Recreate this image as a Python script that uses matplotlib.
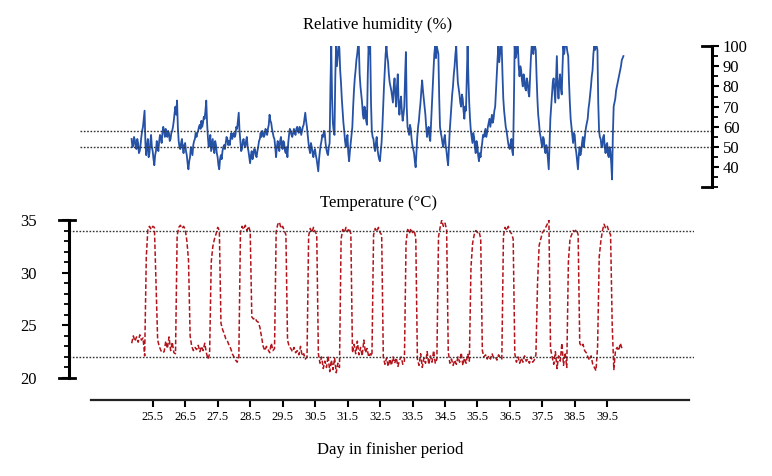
import numpy as np
import matplotlib.pyplot as plt
from matplotlib.ticker import MultipleLocator

plt.rcParams["font.family"] = ["Liberation Serif", "DejaVu Serif"]

# logger readings; first one at day 24.85
start_day = 24.85
rh_step = 0.025
temp_step = 0.05

rh = [
    54, 50, 51, 55, 53.5, 50, 49, 54, 52, 47, 48, 51, 55, 58, 60, 64, 68, 52, 46, 51,
    54, 45, 47, 52, 56, 50, 48, 44, 41, 46, 48, 53, 50, 48, 53, 56, 55, 52, 57, 60,
    58, 55, 59, 56, 55, 58, 57, 53, 54, 57, 58, 60, 63, 67, 70, 66, 73, 60, 53, 50,
    49, 52, 54, 50, 47, 51, 52, 48, 46, 42, 39, 43, 45, 50, 48, 46, 51, 53, 54, 57,
    55, 57, 58, 60, 61, 59, 63, 60, 62, 65, 64, 68, 73, 62, 55, 50, 52, 56, 48, 51,
    54, 49, 47, 53, 51, 47, 45, 41, 39, 44, 46, 44, 48, 50, 51, 49, 52, 55, 54, 51,
    53, 51, 55, 57, 54, 56, 57, 55, 56, 60, 59, 63, 67, 58, 53, 48, 49, 53, 54, 51,
    50, 53, 55, 50, 48, 45, 42, 46, 48, 44, 46, 49, 49, 46, 45, 48, 50, 53, 54, 57,
    55, 58, 57, 55, 56, 59, 58, 56, 59, 61, 66, 63, 62, 59, 57, 55, 54, 50, 45, 50,
    53, 50, 48, 53, 55, 51, 49, 53, 52, 48, 47, 50, 45, 52, 56, 59, 58, 56, 55, 57,
    59, 57, 56, 59, 60, 58, 57, 60, 59, 56, 58, 60, 61, 64, 67, 63, 60, 56, 52, 49,
    47, 52, 50, 47, 45, 48, 49, 46, 44, 41, 38, 44, 48, 51, 53, 56, 55, 58, 57, 52,
    49, 47, 46, 50, 52, 80, 100, 75, 62, 58, 56, 85, 100, 90, 95, 100, 99, 88, 82, 74,
    68, 62, 58, 53, 50, 54, 56, 47, 43, 48, 52, 56, 60, 70, 78, 84, 88, 93, 96, 100,
    100, 86, 80, 76, 72, 66, 64, 70, 68, 63, 61, 85, 100, 96, 100, 72, 58, 55, 54, 50,
    48, 52, 55, 49, 46, 44, 43, 48, 52, 60, 70, 80, 88, 96, 100, 95, 92, 86, 82, 80,
    78, 75, 72, 80, 84, 76, 70, 80, 86, 72, 66, 72, 75, 68, 63, 66, 70, 85, 97, 70,
    60, 58, 56, 61, 59, 54, 51, 49, 47, 43, 40, 48, 55, 60, 63, 68, 72, 78, 83, 78,
    74, 70, 66, 60, 55, 58, 60, 55, 53, 62, 70, 80, 88, 96, 100, 94, 100, 98, 96, 75,
    60, 57, 55, 52, 50, 54, 56, 51, 48, 44, 41, 50, 58, 64, 70, 76, 80, 86, 90, 96,
    100, 90, 82, 79, 76, 72, 70, 76, 74, 68, 64, 70, 68, 85, 100, 84, 72, 64, 58, 55,
    52, 57, 55, 50, 47, 53, 51, 46, 43, 47, 45, 49, 52, 56, 55, 57, 59, 55, 57, 60,
    62, 64, 60, 63, 66, 62, 64, 68, 70, 78, 86, 94, 100, 92, 96, 100, 100, 86, 74, 68,
    64, 60, 58, 55, 52, 50, 49, 52, 54, 48, 46, 70, 100, 94, 96, 100, 100, 90, 85, 90,
    88, 83, 80, 86, 84, 79, 78, 84, 82, 77, 75, 85, 94, 100, 100, 96, 100, 100, 98, 85,
    74, 66, 62, 57, 55, 52, 50, 55, 54, 49, 47, 51, 49, 44, 39, 52, 64, 70, 76, 82,
    84, 78, 72, 84, 95, 80, 74, 82, 86, 79, 76, 90, 100, 96, 100, 100, 100, 97, 95, 82,
    72, 64, 60, 56, 52, 57, 56, 50, 47, 43, 39, 46, 50, 46, 48, 52, 55, 50, 53, 57,
    60, 62, 64, 69, 72, 76, 80, 85, 88, 96, 100, 98, 100, 100, 98, 72, 58, 55, 54, 50,
    50, 55, 56, 50, 47, 51, 52, 46, 45, 50, 48, 42, 34, 56, 70, 72, 74, 78, 80, 82,
    84, 86, 88, 90, 93, 94, 95,
]

temp = [
    23.3, 24.0, 23.5, 23.9, 23.4, 24.1, 23.6, 23.8, 22.1, 31.5, 34.2, 34.4, 34.1, 34.4, 34.3, 29.0, 23.6, 23.0, 22.6, 22.4,
    22.5, 23.5, 22.8, 23.9, 22.6, 23.4, 22.4, 22.3, 33.5, 34.3, 34.5, 34.2, 34.4, 34.1, 33.0, 31.2, 24.0, 23.0, 22.6, 22.9,
    22.7, 23.1, 22.5, 23.0, 22.6, 23.3, 22.4, 21.8, 22.3, 31.0, 32.5, 33.2, 33.7, 34.3, 34.0, 25.2, 24.6, 24.2, 23.7, 23.5,
    23.1, 22.8, 22.3, 22.0, 21.7, 21.5, 22.0, 33.8, 34.4, 34.1, 34.5, 34.0, 34.4, 33.9, 25.8, 25.6, 25.7, 25.4, 25.3, 24.8,
    23.9, 23.0, 22.6, 23.0, 22.7, 22.4, 23.3, 22.6, 22.8, 33.9, 34.6, 34.8, 34.2, 34.4, 34.0, 33.6, 23.6, 23.0, 22.8, 22.5,
    22.9, 22.4, 22.6, 22.2, 23.0, 22.1, 22.3, 21.8, 22.0, 33.5, 34.2, 33.8, 34.3, 33.9, 33.6, 22.3, 21.4, 22.0, 20.9, 21.6,
    21.0, 22.1, 20.6, 21.7, 20.8, 21.9, 20.5, 21.4, 21.0, 33.2, 34.1, 33.8, 34.3, 33.9, 34.2, 33.7, 22.4, 23.2, 22.3, 23.5,
    22.2, 22.9, 22.1, 23.6, 22.4, 22.8, 22.0, 22.3, 22.1, 33.6, 34.2, 33.9, 34.3, 33.8, 33.6, 22.0, 21.3, 21.9, 21.1, 21.8,
    21.2, 22.0, 21.4, 21.9, 21.1, 21.7, 22.0, 21.3, 21.6, 32.8, 34.1, 33.7, 34.2, 33.8, 34.0, 33.3, 21.8, 21.2, 22.3, 21.0,
    21.9, 21.4, 22.5, 21.3, 22.1, 21.5, 22.6, 21.4, 21.8, 33.4, 34.3, 35.0, 34.4, 34.7, 34.1, 22.5, 21.4, 21.8, 21.2, 21.7,
    21.3, 22.0, 21.5, 22.4, 21.2, 21.9, 21.4, 22.3, 21.6, 30.5, 32.8, 33.6, 34.0, 33.8, 33.9, 33.2, 22.6, 22.0, 22.2, 21.8,
    22.1, 21.8, 22.3, 21.9, 22.0, 21.7, 22.2, 21.9, 21.8, 33.5, 34.3, 34.0, 34.4, 33.9, 33.7, 33.2, 22.3, 21.5, 22.0, 21.4,
    21.9, 21.5, 22.1, 21.6, 21.8, 21.4, 22.0, 21.5, 21.7, 22.2, 29.0, 32.6, 33.2, 33.8, 34.0, 34.3, 34.6, 35.0, 22.8, 22.0,
    21.3, 22.5, 20.9, 22.1, 21.6, 23.3, 21.2, 22.4, 21.0, 31.0, 33.2, 33.6, 34.0, 33.9, 34.1, 33.6, 23.3, 23.0, 23.2, 22.6,
    22.4, 22.0, 21.7, 22.1, 21.3, 21.0, 20.7, 23.0, 31.5, 33.0, 34.0, 34.6, 34.2, 34.4, 33.9, 33.6, 25.0, 20.8, 22.6, 22.9,
    22.6, 23.3, 22.8, 22.7,
]

rh_refs = [58, 50]
temp_refs = [34, 22]
day_ticks = [25.5, 26.5, 27.5, 28.5, 29.5, 30.5, 31.5, 32.5, 33.5, 34.5, 35.5, 36.5, 37.5, 38.5, 39.5]
rh_ticks = [40, 50, 60, 70, 80, 90, 100]
temp_ticks = [20, 25, 30, 35]

days_rh = start_day + rh_step * np.arange(len(rh))
days_t = start_day + temp_step * np.arange(len(temp))

fig = plt.figure(figsize=(7.72, 4.76), dpi=100)
dots = (0, (1.2, 1.2))

# --- relative humidity, top panel, axis on the right
ax1 = fig.add_axes([0.1036, 0.6061, 0.8183, 0.2973])
ax1.plot(days_rh, rh, color="#2652a6", lw=1.3)
for v in rh_refs:
    ax1.axhline(v, color="#333333", ls=dots, lw=1.0)
ax1.set_xlim(23.26, 42.72)
ax1.set_ylim(30, 100)
for s in ["top", "left", "bottom"]:
    ax1.spines[s].set_visible(False)
ax1.spines["right"].set_linewidth(2.2)
ax1.yaxis.tick_right()
ax1.set_yticks(rh_ticks)
ax1.yaxis.set_minor_locator(MultipleLocator(5))
ax1.tick_params(axis="y", which="major", length=5, width=1.5, pad=3, labelsize=12)
ax1.tick_params(axis="y", which="minor", length=4, width=1.3)
ax1.set_xticks([])
tr1 = ax1.get_yaxis_transform()
for v in [100, 30]:
    ax1.plot([0.984, 1.0], [v, v], color="black", lw=2, transform=tr1, clip_on=False)

# --- temperature, bottom panel
ax2 = fig.add_axes([0.0894, 0.2059, 0.8096, 0.3319])
ax2.plot(days_t, temp, color="#b3141c", lw=1.1, ls=(0, (3, 1.5)))
for v in temp_refs:
    ax2.axhline(v, color="#333333", ls=dots, lw=1.0)
ax2.set_xlim(22.92, 42.17)
ax2.set_ylim(20, 35)
ax2.spines["top"].set_visible(False)
ax2.spines["right"].set_visible(False)
ax2.spines["left"].set_linewidth(2.2)
ax2.spines["bottom"].set_position(("outward", 15.8))
ax2.spines["bottom"].set_bounds(23.6, 42.0)
ax2.spines["bottom"].set_linewidth(1.6)
ax2.spines["bottom"].set_color("#222222")
ax2.set_xticks(day_ticks)
ax2.set_xticklabels([str(d) for d in day_ticks])
ax2.tick_params(axis="x", length=5, width=1.5, pad=3, labelsize=9)
ax2.set_yticks(temp_ticks)
ax2.yaxis.set_minor_locator(MultipleLocator(1))
ax2.tick_params(axis="y", which="major", length=5, width=1.5, pad=18, labelsize=12)
ax2.tick_params(axis="y", which="minor", length=3.5, width=1.3)
tr2 = ax2.get_yaxis_transform()
for v in [35, 20]:
    ax2.plot([-0.016, 0.01], [v, v], color="black", lw=2, transform=tr2, clip_on=False)

fig.text(378 / 772, 1 - 25 / 476, "Relative humidity (%)", ha="center", va="center", fontsize=12)
fig.text(378 / 772, 1 - 203 / 476, "Temperature (°C)", ha="center", va="center", fontsize=12)
fig.text(390 / 772, 1 - 450 / 476, "Day in finisher period", ha="center", va="center", fontsize=12)

fig.savefig("out.png", dpi=100)
